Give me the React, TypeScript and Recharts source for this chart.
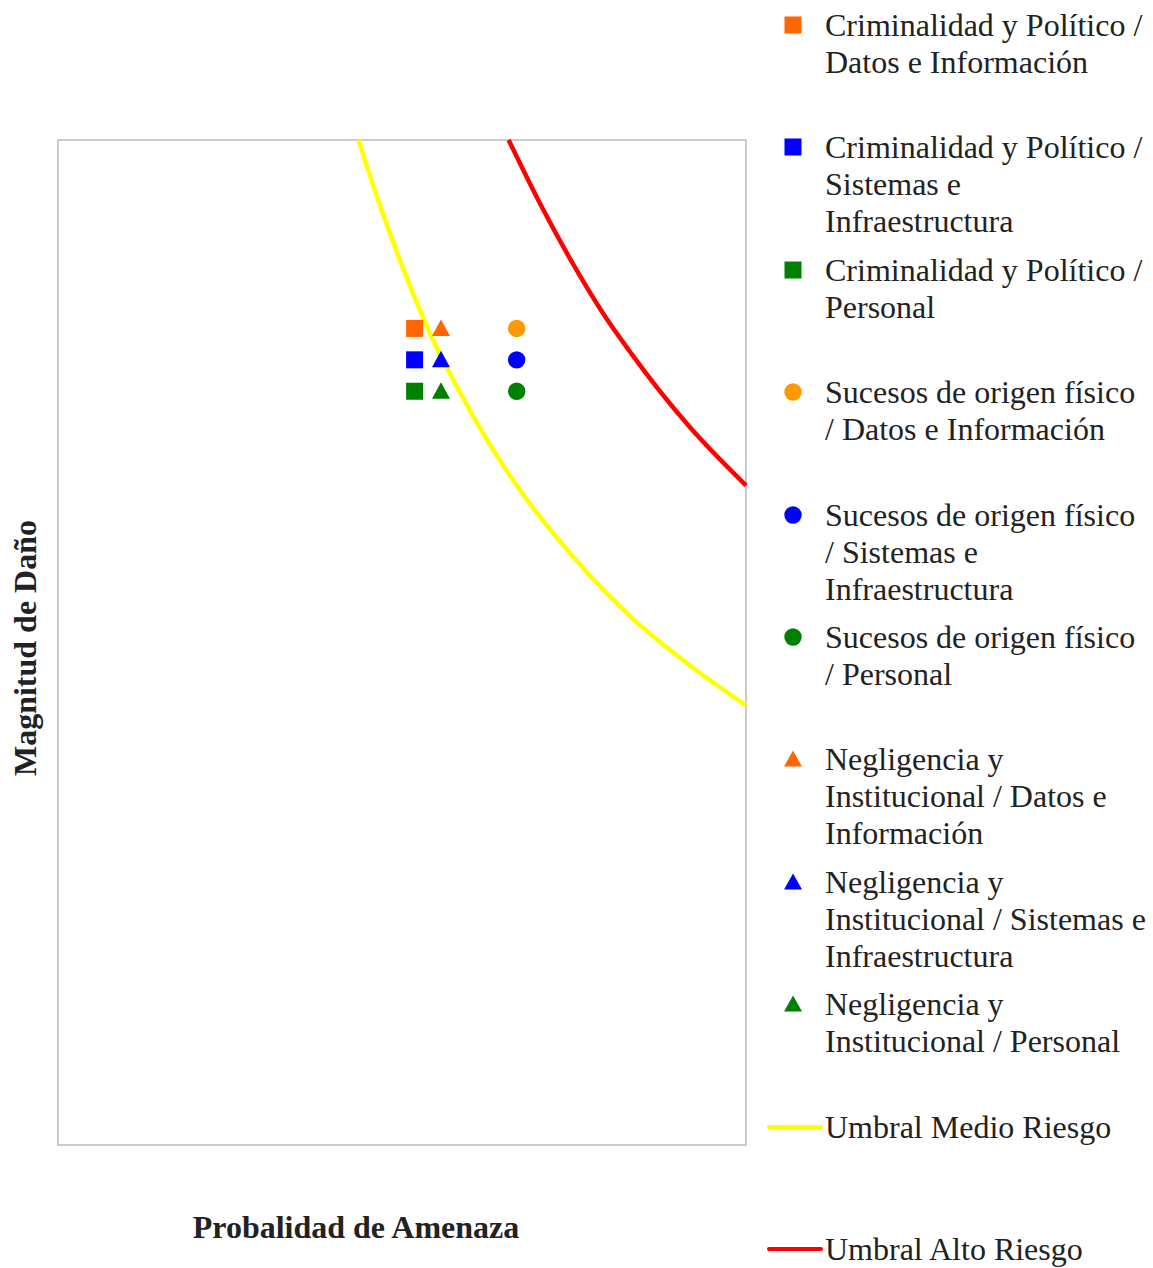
import React from "react";
import {
  ComposedChart,
  Line,
  Scatter,
  XAxis,
  YAxis,
  ReferenceArea,
} from "recharts";

// probability (x) and damage magnitude (y) for each marker
const colX = { criminal: 3.11, negligencia: 3.34, sucesos: 4.0 };
const rowY = { datos: 13, sistemas: 12.5, personal: 12 };

const criminalDatos = [{ x: colX.criminal, y: rowY.datos }];
const criminalSistemas = [{ x: colX.criminal, y: rowY.sistemas }];
const criminalPersonal = [{ x: colX.criminal, y: rowY.personal }];
const sucesosDatos = [{ x: colX.sucesos, y: rowY.datos }];
const sucesosSistemas = [{ x: colX.sucesos, y: rowY.sistemas }];
const sucesosPersonal = [{ x: colX.sucesos, y: rowY.personal }];
const negligenciaDatos = [{ x: colX.negligencia, y: rowY.datos }];
const negligenciaSistemas = [{ x: colX.negligencia, y: rowY.sistemas }];
const negligenciaPersonal = [{ x: colX.negligencia, y: rowY.personal }];

// threshold curves
const umbralMedio = [
  { x: 2.62, y: 16 },
  { x: 2.8, y: 15 },
  { x: 3.0, y: 14 },
  { x: 3.25, y: 12.9 },
  { x: 3.5, y: 12 },
  { x: 3.75, y: 11.2 },
  { x: 4.0, y: 10.5 },
  { x: 4.5, y: 9.35 },
  { x: 5.0, y: 8.4 },
  { x: 5.5, y: 7.65 },
  { x: 6.0, y: 7.0 },
];
const umbralAlto = [
  { x: 3.93, y: 16 },
  { x: 4.2, y: 15 },
  { x: 4.5, y: 14 },
  { x: 4.75, y: 13.25 },
  { x: 5.0, y: 12.6 },
  { x: 5.5, y: 11.45 },
  { x: 6.0, y: 10.5 },
];

type Shape = "square" | "circle" | "triangle" | "line";

const series: {
  name: string[];
  color: string;
  shape: Shape;
  data: { x: number; y: number }[];
}[] = [
  { name: ["Criminalidad y Político /", "Datos e Información"], color: "#FF6600", shape: "square", data: criminalDatos },
  { name: ["Criminalidad y Político /", "Sistemas e", "Infraestructura"], color: "#0000FF", shape: "square", data: criminalSistemas },
  { name: ["Criminalidad y Político /", "Personal"], color: "#008000", shape: "square", data: criminalPersonal },
  { name: ["Sucesos de origen físico", "/ Datos e Información"], color: "#FF9900", shape: "circle", data: sucesosDatos },
  { name: ["Sucesos de origen físico", "/ Sistemas e", "Infraestructura"], color: "#0000FF", shape: "circle", data: sucesosSistemas },
  { name: ["Sucesos de origen físico", "/ Personal"], color: "#008000", shape: "circle", data: sucesosPersonal },
  { name: ["Negligencia y", "Institucional / Datos e", "Información"], color: "#FF6600", shape: "triangle", data: negligenciaDatos },
  { name: ["Negligencia y", "Institucional / Sistemas e", "Infraestructura"], color: "#0000FF", shape: "triangle", data: negligenciaSistemas },
  { name: ["Negligencia y", "Institucional / Personal"], color: "#008000", shape: "triangle", data: negligenciaPersonal },
  { name: ["Umbral Medio Riesgo"], color: "#FFFF00", shape: "line", data: umbralMedio },
  { name: ["Umbral Alto Riesgo"], color: "#FF0000", shape: "line", data: umbralAlto },
];

const FONT = '"Liberation Serif", "Times New Roman", serif';

function marker(shape: Shape, color: string) {
  return (props: any) => {
    const { cx, cy } = props;
    if (shape === "square")
      return <rect x={cx - 8.5} y={cy - 8.5} width={17} height={17} fill={color} />;
    if (shape === "circle") return <circle cx={cx} cy={cy} r={8.7} fill={color} />;
    return (
      <polygon
        points={`${cx},${cy - 9} ${cx + 9},${cy + 7.5} ${cx - 9},${cy + 7.5}`}
        fill={color}
      />
    );
  };
}

function LegendIcon({ shape, color }: { shape: Shape; color: string }) {
  if (shape === "line")
    return (
      <svg width={56} height={10} style={{ position: "absolute", left: 0, top: 13 }}>
        <line x1={2} y1={5} x2={54} y2={5} stroke={color} strokeWidth={4} strokeLinecap="round" />
      </svg>
    );
  return (
    <svg width={20} height={20} style={{ position: "absolute", left: 16, top: 8 }}>
      {shape === "square" && <rect x={1.5} y={1.5} width={17} height={17} fill={color} />}
      {shape === "circle" && <circle cx={10} cy={10} r={8.7} fill={color} />}
      {shape === "triangle" && <polygon points="10,1.5 19,17.5 1,17.5" fill={color} />}
    </svg>
  );
}

export default function App() {
  const scatters = series.filter((s) => s.shape !== "line");
  const lines = series.filter((s) => s.shape === "line");
  return (
    <div
      style={{
        position: "absolute",
        left: 0,
        top: 0,
        width: 1153,
        height: 1268,
        background: "#fff",
        fontFamily: FONT,
        color: "#222",
      }}
    >
      <ComposedChart
        width={760}
        height={1268}
        margin={{ top: 140, right: 14, bottom: 123, left: 58 }}
        style={{ position: "absolute", left: 0, top: 0 }}
      >
        <XAxis type="number" dataKey="x" domain={[0, 6]} hide />
        <YAxis type="number" dataKey="y" domain={[0, 16]} hide />
        <ReferenceArea x1={0} x2={6} y1={0} y2={16} fill="none" stroke="#BBBBBB" strokeWidth={1.5} />
        {lines.map((s) => (
          <Line
            key={s.name.join(" ")}
            data={s.data}
            dataKey="y"
            type="monotone"
            stroke={s.color}
            strokeWidth={4.5}
            dot={false}
            activeDot={false}
            isAnimationActive={false}
          />
        ))}
        {scatters.map((s) => (
          <Scatter
            key={s.name.join(" ")}
            data={s.data}
            dataKey="y"
            fill={s.color}
            shape={marker(s.shape, s.color)}
            isAnimationActive={false}
          />
        ))}
      </ComposedChart>

      <div
        style={{
          position: "absolute",
          left: 25,
          top: 648,
          transform: "translate(-50%, -50%) rotate(-90deg)",
          whiteSpace: "nowrap",
          fontWeight: "bold",
          fontSize: 32,
        }}
      >
        Magnitud de Daño
      </div>
      <div
        style={{
          position: "absolute",
          left: 356,
          top: 1227,
          transform: "translate(-50%, -50%)",
          whiteSpace: "nowrap",
          fontWeight: "bold",
          fontSize: 32,
        }}
      >
        Probalidad de Amenaza
      </div>

      {series.map((s, i) => (
        <div
          key={s.name.join(" ")}
          style={{
            position: "absolute",
            left: 767,
            top: 7 + i * 122.4,
            width: 386,
            fontSize: 32,
            lineHeight: "37px",
          }}
        >
          <LegendIcon shape={s.shape} color={s.color} />
          <div style={{ marginLeft: 58, whiteSpace: "nowrap" }}>
            {s.name.map((l) => (
              <div key={l}>{l}</div>
            ))}
          </div>
        </div>
      ))}
    </div>
  );
}
